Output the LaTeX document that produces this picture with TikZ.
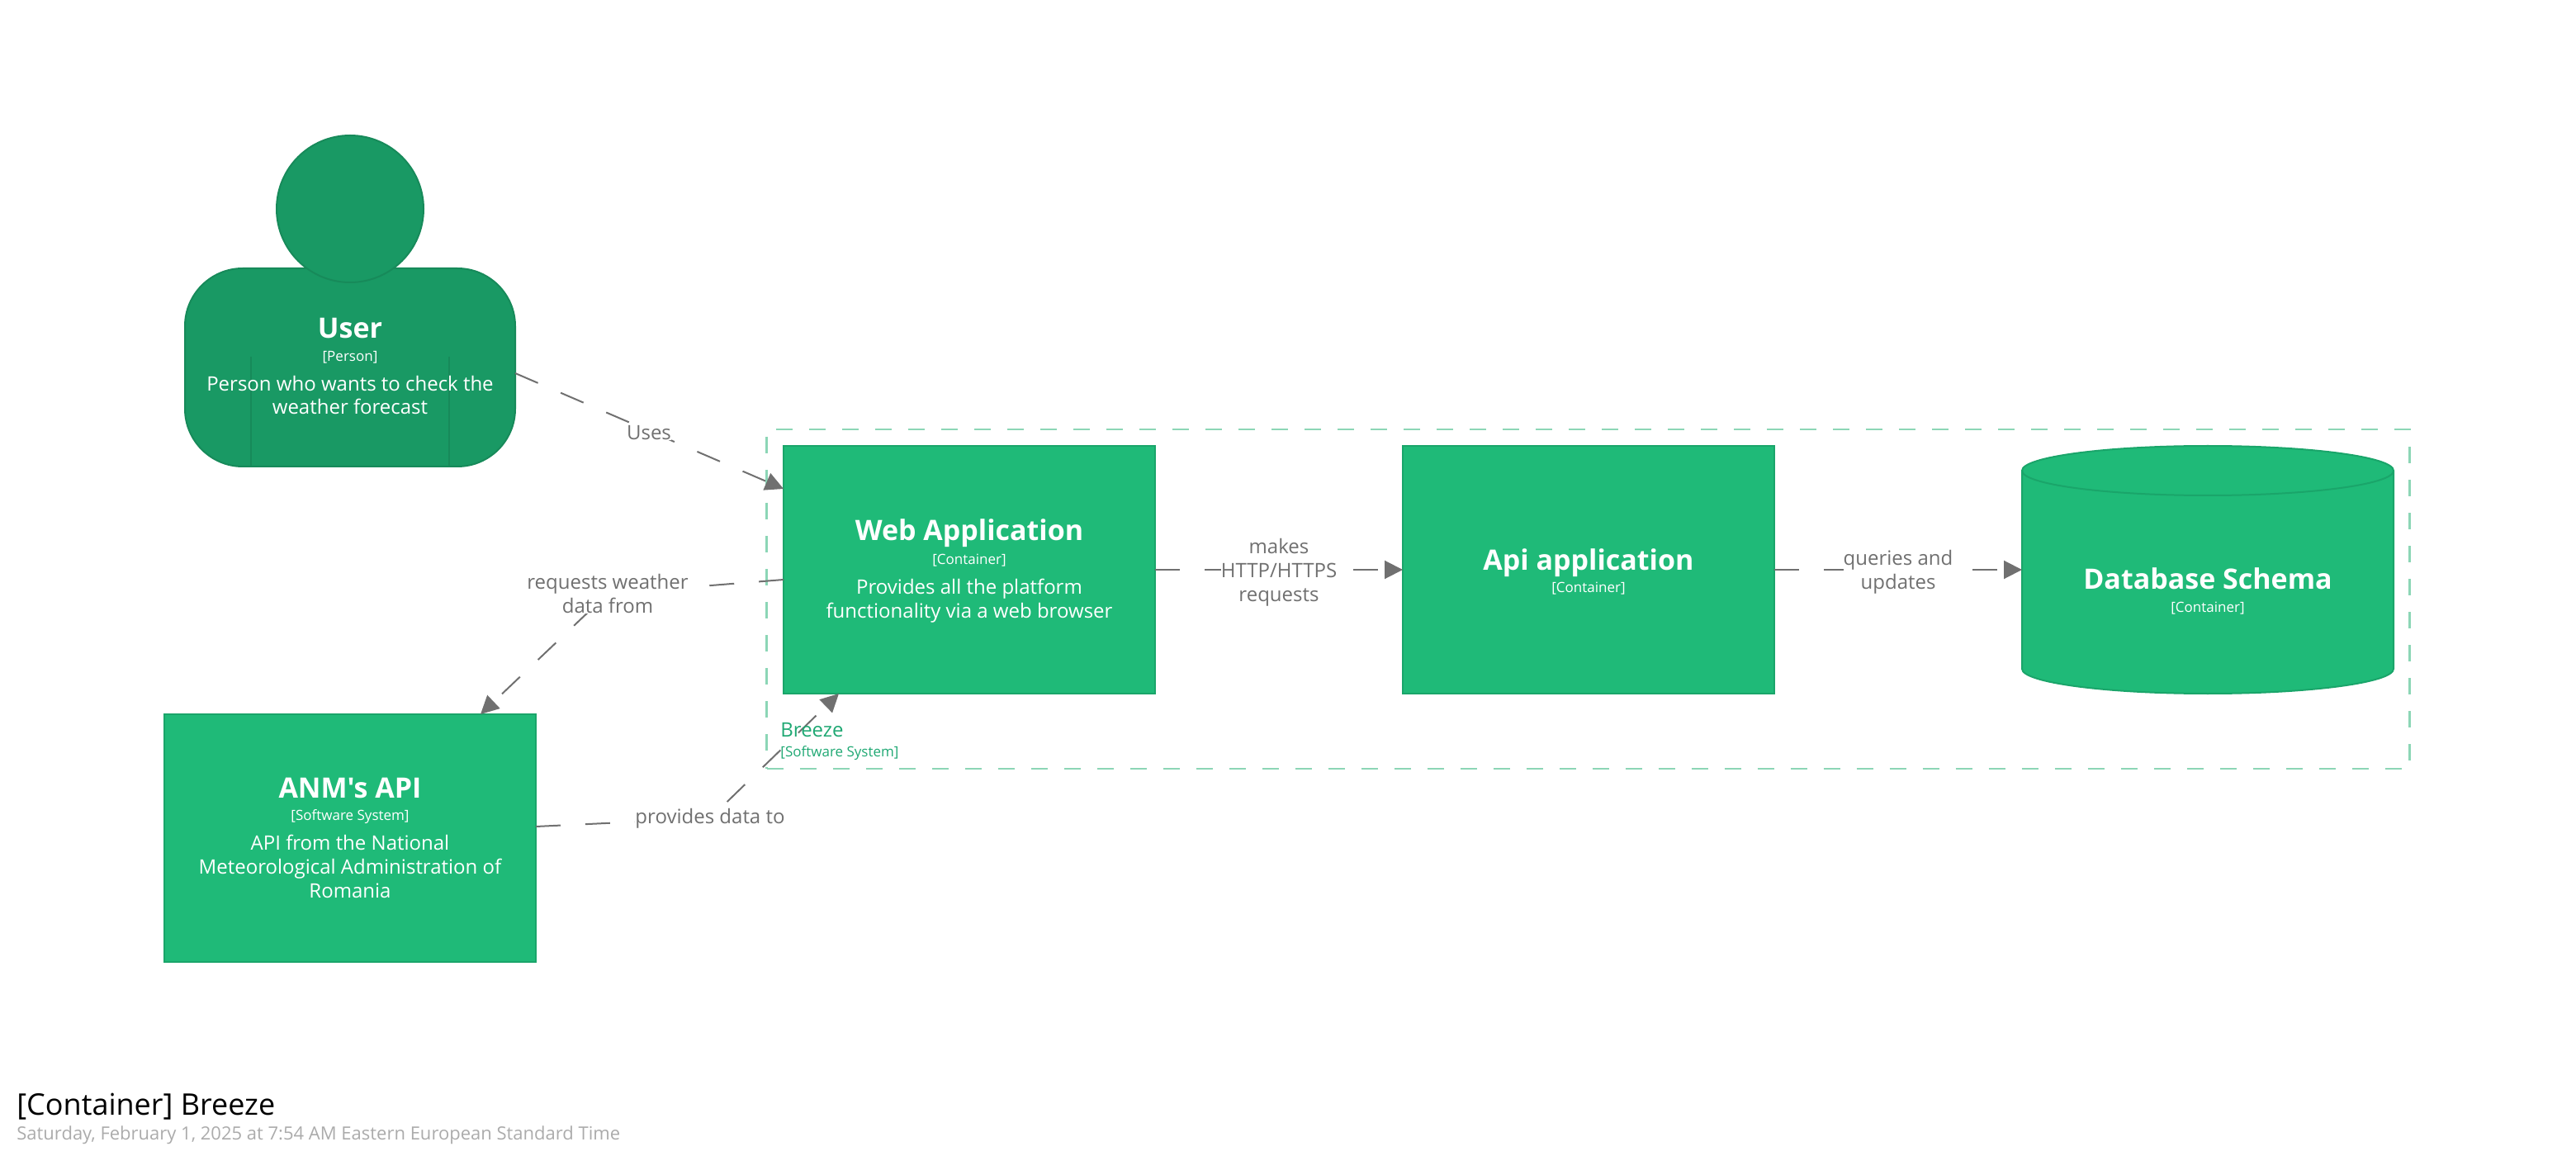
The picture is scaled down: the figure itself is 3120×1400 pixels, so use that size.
\documentclass[tikz,border=0pt]{standalone}
\usepackage{fontspec}
\setmainfont{Open Sans}
\newfontfamily\plainfont{Open Sans}
\usetikzlibrary{calc,arrows.meta}
\pgfdeclarelayer{shapes}
\pgfdeclarelayer{lines}
\pgfsetlayers{shapes,lines,main}
\definecolor{boxfill}{HTML}{1FBA78}
\definecolor{boxline}{HTML}{1AA56A}
\definecolor{personfill}{HTML}{199964}
\definecolor{personline}{HTML}{178A5A}
\definecolor{frameline}{HTML}{8CD6B6}
\definecolor{framegreen}{HTML}{1FA873}
\definecolor{linkgrey}{HTML}{707070}
\tikzset{
  x=0.5pt,y=-0.5pt,
  boxshape/.style={draw=boxline,fill=boxfill,line width=1pt,rectangle,inner sep=0pt,outer sep=0pt,minimum width=225pt,minimum height=150pt},
  personbody/.style={draw=personline,fill=personfill,line width=1pt,rectangle,rounded corners=35pt,inner sep=0pt,outer sep=0pt,minimum width=200pt,minimum height=120pt},
  personhead/.style={draw=personline,fill=personfill,line width=1pt,circle,inner sep=0pt,outer sep=0pt,minimum size=89pt},
  titletext/.style={anchor=base,text=white,inner sep=0pt,font=\fontsize{17}{20}\selectfont\bfseries},
  metatext/.style={anchor=base,text=white,inner sep=0pt,font=\fontsize{8.5}{10}\selectfont},
  desctext/.style={anchor=base,text=white,inner sep=0pt,align=center,font=\fontsize{12}{14.4}\selectfont},
  linklabel/.style={fill=white,text=linkgrey,inner sep=0pt,align=center,font=\fontsize{12}{14.5}\selectfont},
  link/.style={draw=linkgrey,line width=1pt,dash pattern=on 15pt off 15pt,-{Triangle[length=11pt,width=11pt]}},
  framebox/.style={draw=frameline,line width=1.2pt,dash pattern=on 10pt off 10pt,rectangle,inner sep=0pt,outer sep=0pt,minimum width=995pt,minimum height=205.5pt},
}
\begin{document}
\begin{tikzpicture}
\useasboundingbox (0,0) rectangle (3120,1400);
\begin{pgfonlayer}{shapes}
\node[framebox] (breeze) at (1923.5,725.5) {};
\node[personbody] (userbody) at (424,445) {};
\draw[draw=personline,line width=1pt] (304,432) -- (304,565);
\draw[draw=personline,line width=1pt] (544,432) -- (544,565);
\node[personhead] (userhead) at (424,253) {};
\node[boxshape] (web) at (1174,690) {};
\node[boxshape] (api) at (1924,690) {};
\node[boxshape] (anm) at (424,1015) {};
\node[rectangle,inner sep=0pt,outer sep=0pt,minimum width=225pt,minimum height=150pt] (db) at (2674,690) {};
\draw[draw=boxline,fill=boxfill,line width=1pt]
  ($(db.north west)+(0,30)$) arc[start angle=180,end angle=0,x radius=112.5pt,y radius=15pt]
  -- ($(db.south east)+(0,-30)$) arc[start angle=0,end angle=-180,x radius=112.5pt,y radius=15pt] -- cycle;
\draw[draw=boxline,line width=1pt]
  ($(db.north west)+(0,30)$) arc[start angle=180,end angle=360,x radius=112.5pt,y radius=15pt];
\end{pgfonlayer}

\node[titletext] (usertitle) at (424,410) {User};
\node[metatext] (usermeta) at (424,438) {[Person]};
\node[desctext] (userdesc) at (424,502) {Person who wants to check the\\weather forecast};

\node[titletext] (webtitle) at (1174,655) {Web Application};
\node[metatext] (webmeta) at (1174,683) {[Container]};
\node[desctext] (webdesc) at (1174,748) {Provides all the platform\\functionality via a web browser};

\node[titletext] (apititle) at (1924,690) {Api application};
\node[metatext] (apimeta) at (1924,718) {[Container]};

\node[titletext] (dbtitle) at (2674,713) {Database Schema};
\node[metatext] (dbmeta) at (2674,741) {[Container]};

\node[titletext] (anmtitle) at (424,966) {\plainfont\bfseries ANM's API};
\node[metatext] (anmmeta) at (424,993) {[Software System]};
\node[desctext] (anmdesc) at (424,1087) {API from the National\\Meteorological Administration of\\Romania};

\node[anchor=base west,text=framegreen,inner sep=0pt,font=\fontsize{12}{14}\selectfont] (breezename) at (945,892) {Breeze};
\node[anchor=base west,text=framegreen,inner sep=0pt,font=\fontsize{8.5}{10}\selectfont] (breezemeta) at (945,916) {[Software System]};

\node[anchor=base west,inner sep=0pt,font=\fontsize{18}{21}\selectfont] (pagetitle) at (20,1350) {[Container] Breeze};
\node[anchor=base west,inner sep=0pt,text=black!33,font=\fontsize{11}{13}\selectfont] (pagedate) at (20,1380) {Saturday, February 1, 2025 at 7:54 AM Eastern European Standard Time};

\node[linklabel] (luses) at (786,524) {Uses};
\node[linklabel] (lreq) at (736,719) {requests weather\\data from};
\node[linklabel] (lprov) at (860,991) {provides data to};
\node[linklabel] (lmakes) at (1549,693) {makes\\HTTP/HTTPS\\requests};
\node[linklabel] (lquery) at (2299,693) {queries and\\updates};

\begin{pgfonlayer}{lines}
\draw[link] ($(userbody.east)+(0,7)$) -- ($(web.west)+(0,-98)$);
\draw[link] ($(web.west)+(0,12)$) -- (lreq.center) -- ($(anm.north)+(158,0)$);
\draw[link] ($(anm.east)+(0,-14)$) -- (lprov.center) -- ($(web.south)+(-158,0)$);
\draw[link] (web.east) -- (api.west);
\draw[link] (api.east) -- (db.west);
\end{pgfonlayer}
\end{tikzpicture}
\end{document}
